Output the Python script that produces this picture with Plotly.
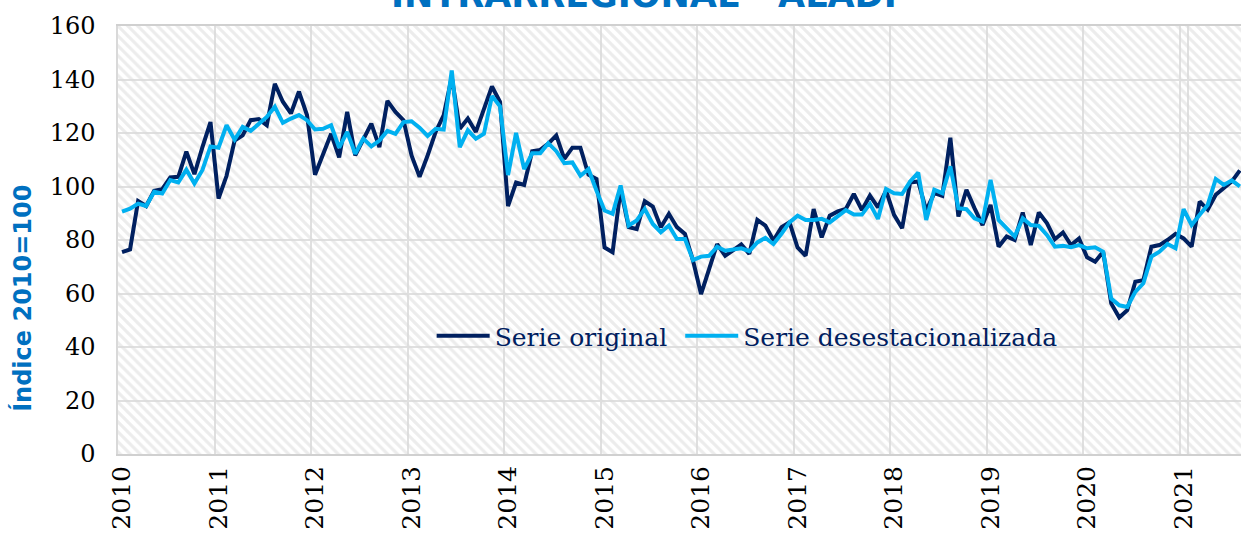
import plotly.graph_objects as go
import pandas as pd

# ---- data -------------------------------------------------------------
months = pd.date_range("2010-01-01", periods=140, freq="MS").strftime("%Y-%m").tolist()

serie_original = [
    75.5, 76.5, 94.6, 92.7, 98.4, 99.0, 103.4, 103.6, 113.0, 104.6, 114.7, 124.1,
    95.5, 104.0, 117.2, 119.1, 124.8, 125.2, 122.9, 138.4, 131.7, 127.3, 135.5, 126.7,
    104.4, 111.6, 119.7, 110.9, 127.9, 111.6, 117.9, 123.5, 114.7, 132.0, 127.9, 124.8,
    111.6, 103.6, 111.6, 120.4, 126.7, 141.0, 121.6, 125.4, 120.4, 129.2, 137.4, 131.7,
    92.7, 101.5, 100.6, 113.2, 113.7, 116.0, 119.1, 110.3, 114.5, 114.5, 104.4, 102.8,
    77.2, 75.4, 99.0, 84.8, 84.1, 94.5, 92.5, 84.8, 89.8, 84.8, 82.3, 72.3,
    59.8, 69.1, 78.5, 74.1, 76.0, 78.3, 74.8, 87.5, 85.4, 79.8, 84.8, 86.6,
    77.2, 74.1, 91.6, 81.0, 89.1, 90.7, 91.6, 97.2, 91.2, 96.6, 92.2, 98.5,
    89.4, 84.4, 101.5, 101.9, 91.0, 97.5, 96.5, 118.2, 88.8, 98.8, 91.9, 85.6,
    93.1, 77.5, 81.3, 80.0, 90.3, 78.1, 90.3, 86.3, 80.3, 82.8, 78.1, 80.6,
    73.5, 71.9, 75.6, 56.3, 51.0, 53.8, 64.4, 65.0, 77.5, 78.1, 80.0, 82.3,
    80.6, 77.5, 94.4, 91.3, 96.9, 99.4, 101.9, 106.0,
]

serie_desestacionalizada = [
    90.6, 91.7, 93.6, 92.7, 98.0, 97.4, 102.4, 101.5, 106.3, 101.1, 106.2, 115.0,
    114.5, 122.9, 117.5, 122.3, 120.8, 123.5, 126.0, 129.8, 123.8, 125.4, 126.7, 124.8,
    121.3, 121.6, 122.9, 114.5, 120.4, 112.2, 117.9, 115.0, 117.2, 120.8, 119.7, 124.1,
    124.4, 122.0, 118.9, 121.6, 121.3, 143.4, 114.7, 121.0, 117.9, 119.7, 133.8, 130.0,
    104.3, 120.0, 106.5, 112.4, 112.4, 116.2, 113.2, 108.7, 109.0, 104.0, 106.5, 98.4,
    91.0, 89.8, 100.4, 85.4, 87.3, 91.6, 86.0, 82.9, 85.4, 80.4, 80.4, 72.5,
    73.8, 74.1, 77.5, 76.0, 76.6, 76.9, 75.8, 79.1, 80.8, 78.5, 82.3, 86.6,
    89.1, 87.5, 87.5, 87.9, 86.6, 89.1, 91.2, 89.5, 89.5, 93.5, 87.9, 99.1,
    97.5, 97.2, 101.9, 105.2, 87.5, 98.8, 97.5, 107.5, 91.9, 91.5, 88.1, 86.9,
    102.5, 87.5, 84.4, 81.3, 88.1, 85.6, 85.3, 81.9, 77.5, 77.8, 77.3, 78.1,
    76.9, 77.3, 75.6, 58.1, 55.6, 55.0, 60.6, 63.8, 73.8, 75.6, 78.5, 76.9,
    91.5, 85.6, 89.4, 93.1, 102.8, 100.6, 102.3, 100.0,
]

year_labels = [str(y) for y in range(2010, 2022)]
year_ticks = [f"{y}-01" for y in range(2010, 2022)]
y_ticks = list(range(0, 161, 20))

# ---- styling ----------------------------------------------------------
NAVY = "#002060"
LIGHT = "#00B0F0"
TITLE_BLUE = "#0070C0"
GRID = "#e0e0e0"
SERIF = "DejaVu Serif"

fig = go.Figure()

# hatched plot background (base axes, drawn beneath the data overlay)
fig.add_trace(go.Scatter(
    x=[0, 1, 1, 0, 0], y=[0, 0, 1, 1, 0], xaxis="x", yaxis="y",
    mode="none", fill="toself", fillcolor="rgba(0,0,0,0)",
    fillpattern=dict(shape="\\", size=7, solidity=0.45,
                     fgcolor="#d9d9d9", bgcolor="rgba(0,0,0,0)"),
    hoverinfo="skip", showlegend=False,
))

fig.add_trace(go.Scatter(
    x=months, y=serie_original, xaxis="x2", yaxis="y2", mode="lines",
    name="Serie original\u00a0", line=dict(color=NAVY, width=4),
))
fig.add_trace(go.Scatter(
    x=months, y=serie_desestacionalizada, xaxis="x2", yaxis="y2", mode="lines",
    name="Serie desestacionalizada", line=dict(color=LIGHT, width=4),
))

fig.update_layout(
    width=1241, height=535, autosize=False,
    margin=dict(l=118, r=0, t=26, b=81),
    paper_bgcolor="white", plot_bgcolor="white",
    font=dict(family=SERIF, size=24, color="black"),
    xaxis=dict(range=[0, 1], visible=False, fixedrange=True, automargin=False),
    yaxis=dict(range=[0, 1], visible=False, fixedrange=True, automargin=False),
    xaxis2=dict(
        type="category", overlaying="x", anchor="y2", automargin=False,
        range=[-0.5, 139.14], tickson="boundaries",
        tickmode="array", tickvals=year_ticks, ticktext=year_labels,
        tickangle=-90, ticks="", ticklabelstandoff=0,
        showgrid=True, gridcolor=GRID, gridwidth=1.5,
        showline=True, linecolor="#d0d0d0", linewidth=2, mirror=True,
        tickfont=dict(family=SERIF, size=25, color="black"),
    ),
    yaxis2=dict(
        overlaying="y", anchor="x2", side="left", automargin=False,
        range=[0, 160], tickmode="array", tickvals=y_ticks,
        ticks="", ticklabelstandoff=16,
        showgrid=True, gridcolor=GRID, gridwidth=1.5,
        showline=True, linecolor="#d9d9d9", linewidth=1.5, mirror=True,
        zeroline=False,
        tickfont=dict(family=SERIF, size=24, color="black"),
    ),
    legend=dict(
        orientation="h", x=0.2793, y=0.2757, xanchor="left", yanchor="middle",
        bgcolor="rgba(0,0,0,0)", itemwidth=53,
        font=dict(family=SERIF, size=25, color=NAVY),
    ),
    annotations=[
        dict(text="<b>INTRARREGIONAL - ALADI</b>", xref="paper", yref="paper",
             x=0.468, y=1.022, xanchor="center", yanchor="bottom", showarrow=False,
             font=dict(family="DejaVu Sans", size=35, color=TITLE_BLUE)),
        dict(text="<b>Índice 2010=100</b>", xref="paper", yref="paper",
             x=-0.0853, y=0.363, xanchor="center", yanchor="middle", showarrow=False,
             textangle=-90,
             font=dict(family="DejaVu Sans", size=24, color=TITLE_BLUE)),
    ],
)

# remove the browser's default 8px page margin so the figure fills the window
fig.write_html("out.html", config={"displayModeBar": False},
               post_script="document.body.style.margin='0';")
